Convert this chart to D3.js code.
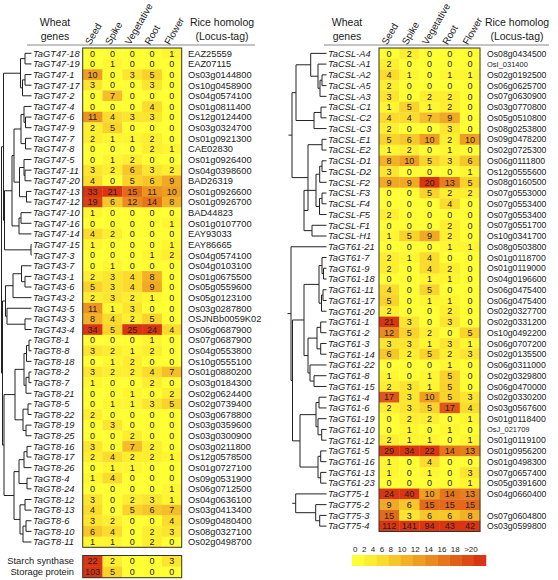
<!DOCTYPE html>
<html><head><meta charset="utf-8">
<script src="https://d3js.org/d3.v7.min.js"></script>
<style>body{margin:0;background:#fff}svg{display:block;font-family:"Liberation Sans",Arial,sans-serif}</style>
</head><body><svg id="c" width="558" height="580"></svg>
<script>
const tissues = ["Seed","Spike","Vegetative","Root","Flower"];

const leftGenes = ["TaGT47-18","TaGT47-19","TaGT47-1","TaGT47-17","TaGT47-2","TaGT47-4","TaGT47-6","TaGT47-9","TaGT47-7","TaGT47-8",
"TaGT47-5","TaGT47-11","TaGT47-20","TaGT47-13","TaGT47-12","TaGT47-10","TaGT47-16","TaGT47-14","TaGT47-15","TaGT47-3",
"TaGT43-7","TaGT43-1","TaGT43-6","TaGT43-2","TaGT43-5","TaGT43-3","TaGT43-4",
"TaGT8-1","TaGT8-8","TaGT8-18","TaGT8-2","TaGT8-7","TaGT8-21","TaGT8-5","TaGT8-22","TaGT8-19","TaGT8-25","TaGT8-16","TaGT8-17",
"TaGT8-26","TaGT8-4","TaGT8-24","TaGT8-12","TaGT8-13","TaGT8-6","TaGT8-10","TaGT8-11"];
const leftValues = [[0,0,0,0,1],[0,1,0,0,0],[10,0,3,5,0],[3,0,0,3,0],[0,7,0,0,0],[0,0,0,4,0],[11,4,3,3,0],[2,5,0,0,0],[2,1,1,2,0],[0,0,0,2,1],
[0,1,2,0,0],[3,2,6,3,2],[4,0,5,6,9],[33,21,15,11,10],[19,6,12,14,8],[1,0,0,0,0],[0,0,0,0,1],[4,2,0,0,0],[1,0,0,0,1],[0,0,0,1,2],
[0,1,0,0,0],[2,3,4,8,0],[5,3,4,9,0],[2,3,2,1,0],[11,1,3,0,0],[8,4,2,5,0],[34,5,25,24,4],
[0,0,0,1,0],[3,2,1,2,0],[0,1,2,0,0],[3,2,2,4,7],[1,0,0,2,0],[0,0,1,0,2],[0,1,1,3,5],[2,0,0,0,0],[0,3,0,0,0],[0,0,2,0,0],[3,0,7,2,0],[2,4,2,2,1],
[0,1,1,0,0],[1,4,0,0,0],[0,0,0,0,1],[3,0,2,3,1],[4,0,5,6,7],[3,2,0,0,4],[6,4,0,2,3],[1,1,0,2,0]];
const leftRice = ["EAZ25559","EAZ07115","Os03g0144800","Os10g0458900","Os04g0574100","Os01g0811400","Os12g0124400","Os03g0324700","Os01g0921300","CAE02830",
"Os01g0926400","Os04g0398600","BAD26319","Os01g0926600","Os01g0926700","BAD44823","Os01g0107700","EAY93033","EAY86665","Os04g0574100",
"Os04g0103100","Os01g0675500","Os05g0559600","Os05g0123100","Os03g0287800","OSJNBb0059K02","Os06g0687900",
"Os07g0687900","Os04g0553800","Os10g0555100","Os01g0880200","Os03g0184300","Os02g0624400","Os02g0739400","Os03g0678800","Os03g0359600","Os03g0300900","Os03g0211800","Os12g0578500",
"Os01g0727100","Os09g0531900","Os06g0712500","Os04g0636100","Os03g0413400","Os09g0480400","Os08g0327100","Os02g0498700"];

const extraLabels = ["Starch synthase","Storage protein"];
const extraValues = [[22,2,0,0,3],[103,5,0,0,0]];

const rightGenes = ["TaCSL-A4","TaCSL-A1","TaCSL-A2","TaCSL-A5","TaCSL-A3","TaCSL-C1","TaCSL-C2","TaCSL-C3","TaCSL-E1","TaCSL-E2",
"TaCSL-D1","TaCSL-D2","TaCSL-F2","TaCSL-F3","TaCSL-F4","TaCSL-F5","TaCSL-F1","TaCSL-H1",
"TaGT61-21","TaGT61-7","TaGT61-9","TaGT61-18","TaGT61-11","TaGT61-17","TaGT61-20","TaGT61-1","TaGT61-2","TaGT61-3","TaGT61-14","TaGT61-22",
"TaGT61-8","TaGT61-15","TaGT61-4","TaGT61-6","TaGT61-19","TaGT61-10","TaGT61-12","TaGT61-5","TaGT61-16","TaGT61-13","TaGT61-23",
"TaGT75-1","TaGT75-2","TaGT75-3","TaGT75-4"];
const rightValues = [[0,2,0,0,0],[2,0,0,0,0],[4,1,0,1,1],[2,0,0,0,0],[3,0,2,2,0],[1,5,1,2,0],[4,4,7,9,0],[2,0,0,3,0],[5,6,10,2,10],[1,2,0,1,0],
[8,10,5,3,6],[3,0,0,0,1],[9,9,20,13,5],[0,0,5,2,2],[0,0,0,4,0],[2,0,0,0,0],[0,0,0,2,0],[1,5,9,2,0],
[0,0,0,1,1],[2,1,4,0,0],[2,0,4,2,0],[0,0,1,1,0],[4,0,5,0,0],[5,0,1,1,0],[2,0,0,2,0],[21,3,0,3,0],[12,5,2,0,5],[3,3,1,3,1],[6,2,5,2,3],[0,0,0,1,0],
[1,0,1,5,0],[2,3,1,5,0],[17,3,10,5,3],[2,3,5,17,4],[0,2,2,0,1],[0,1,0,1,0],[2,1,1,0,1],[29,34,22,14,13],[1,0,4,0,0],[1,0,1,0,3],[0,0,0,0,1],
[24,40,10,14,13],[9,6,15,15,15],[15,3,6,6,8],[112,141,94,43,42]];
const rightRice = ["Os08g0434500","OsI_031400","Os02g0192500","Os06g0625700","Os07g0630900","Os03g0770800","Os05g0510800","Os08g0253800","Os09g0478200","Os02g0725300",
"Os06g0111800","Os12g0555600","Os08g0160500","Os07g0553000","Os07g0553400","Os07g0553400","Os07g0551700","Os10g0341700",
"Os08g0503800","Os01g0118700","Os01g0119000","Os04g0196600","Os06g0475400","Os06g0475400","Os02g0327700","Os02g0331200","Os10g0492200","Os06g0707200","Os02g0135500","Os06g0311000",
"Os02g0329800","Os06g0470000","Os02g0330200","Os03g0567600","Os01g0118400","OsJ_021709","Os01g0119100","Os01g0956200","Os01g0498300","Os07g0657400","Os05g0391600",
"Os04g0660400","","Os07g0604800","Os03g0599800"];

const legendTicks = ["0","2","4","6","8","10","12","14","16","18",">20"];
const legendValues = [0,2,4,6,8,10,12,14,16,18,20];

// dendrograms: N(depth, ...children); leaves are gene names
const N = (d, ...c) => ({d, c});
const leftTree = N(1.5,
  N(3.5,
    N(20.5, N(25,"TaGT47-18","TaGT47-19"), N(22.5, N(25,"TaGT47-1","TaGT47-17"), "TaGT47-2")),
    N(4.5,
      N(12,
        N(14,
          N(21, N(24,"TaGT47-4",N(25.5,"TaGT47-6","TaGT47-9")), N(25.5,"TaGT47-7","TaGT47-8")),
          N(19.5, N(24,"TaGT47-5",N(25,"TaGT47-11","TaGT47-20")), N(26.5,"TaGT47-13","TaGT47-12"))),
        N(19, N(21,"TaGT47-10","TaGT47-16"), "TaGT47-14")),
      N(31,"TaGT47-15","TaGT47-3"))),
  N(2.5,
    N(5.5, N(13, N(21.5,"TaGT43-7",N(25,"TaGT43-1","TaGT43-6")),"TaGT43-2"), N(7,"TaGT43-5",N(25,"TaGT43-3","TaGT43-4"))),
    N(4,
      N(15,
        N(24, N(26.5, N(29,"TaGT8-1","TaGT8-8"),"TaGT8-18"), N(26, N(29,"TaGT8-2","TaGT8-7"),"TaGT8-21")),
        N(23, N(28,"TaGT8-5","TaGT8-22"), N(26,"TaGT8-19","TaGT8-25"))),
      N(14,
        N(19, N(24, N(27,"TaGT8-16","TaGT8-17"),"TaGT8-26"), N(27,"TaGT8-4","TaGT8-24")),
        N(20, N(25,"TaGT8-12","TaGT8-13"), N(23, N(26,"TaGT8-6","TaGT8-10"),"TaGT8-11"))))));

const rightTrees = [
  N(13,
    N(17, N(31.7,"TaCSL-A4",N(39,"TaCSL-A1",N(41,N(43,"TaCSL-A2","TaCSL-A5"),"TaCSL-A3"))),
          N(35, N(42,"TaCSL-C1","TaCSL-C2"),"TaCSL-C3")),
    N(29, N(43,"TaCSL-E1","TaCSL-E2"),
          N(25, N(37, N(40.7, N(43,"TaCSL-D1","TaCSL-D2"),"TaCSL-F2"), N(40.5, N(43,"TaCSL-F3","TaCSL-F4"),"TaCSL-F5")),
                N(33,"TaCSL-F1","TaCSL-H1")))),
  N(12, "TaGT61-21",
    N(13.5,
      N(25, N(40, N(43,"TaGT61-7",N(44.5,"TaGT61-9","TaGT61-18")), N(42.5, N(44,"TaGT61-11","TaGT61-17"),"TaGT61-20")),
            N(29, N(38, N(41.7,"TaGT61-1","TaGT61-2"), N(41.7,"TaGT61-3","TaGT61-14")),
                  N(31,"TaGT61-22",N(35,"TaGT61-8","TaGT61-15")))),
      N(21, N(37, N(40,"TaGT61-4","TaGT61-6"), N(39,"TaGT61-19",N(42.7,"TaGT61-10","TaGT61-12"))),
            N(39, N(41.7,"TaGT61-5","TaGT61-16"), N(41.7,"TaGT61-13","TaGT61-23"))))),
  N(16.7, "TaGT75-1", N(36.7, "TaGT75-2", N(40.7,"TaGT75-3","TaGT75-4")))
];

const svg = d3.select("#c");
const ink = "#1a1a1a";
const color = d3.scaleLinear().domain([0,4,8,12,16,20])
  .range(["#ffff33","#fbdc2c","#f3b225","#ea8a1f","#e25f19","#da3513"]).clamp(true);

function drawPanel(o) {
  const g = svg.append("g");
  const x = d3.scaleBand().domain(tissues).range([o.x0, o.x1]);
  const y = d3.scaleBand().domain(o.genes).range([o.y0, o.y1]);
  // header
  g.append("line").attr("x1", o.lineX0).attr("x2", o.lineX1).attr("y1", 45).attr("y2", 45)
    .attr("stroke", "#888").attr("stroke-width", 1);
  [["Wheat",26],["genes",40]].forEach(([t,yy]) => g.append("text").attr("x", o.wheatX).attr("y", yy)
    .attr("text-anchor","middle").attr("font-size",10.5).attr("fill",ink).text(t));
  [["Rice homolog",26],["(Locus-tag)",40]].forEach(([t,yy]) => g.append("text").attr("x", o.riceHX).attr("y", yy)
    .attr("text-anchor","middle").attr("font-size",10.5).attr("fill",ink).text(t));
  tissues.forEach(t => g.append("text")
    .attr("transform", `translate(${x(t) + x.bandwidth()/2 - 2},${45.5}) rotate(-60)`)
    .attr("font-size", 9.8).attr("fill", ink).text(t));
  // cells
  o.genes.forEach((gn, i) => {
    tissues.forEach((t, j) => {
      const v = o.values[i][j];
      g.append("rect").attr("x", x(t)).attr("y", y(gn)).attr("width", x.bandwidth() + 0.3)
        .attr("height", y.bandwidth() + 0.3).attr("fill", color(v));
      g.append("text").attr("x", x(t) + x.bandwidth()/2).attr("y", y(gn) + y.bandwidth()/2)
        .attr("dy", "0.36em").attr("text-anchor", "middle").attr("font-size", 9).attr("fill", "#222").text(v);
    });
    g.append("text").attr("x", o.labelX).attr("y", y(gn) + y.bandwidth()/2).attr("dy","0.36em")
      .attr("font-size", 9.3).attr("font-style","italic").attr("fill", ink).text(gn);
    const r = o.rice[i];
    const small = r.indexOf("_") >= 0;
    g.append("text").attr("x", o.riceX).attr("y", y(gn) + y.bandwidth()/2).attr("dy","0.36em")
      .attr("font-size", small ? 7.5 : o.riceFont).attr("fill", ink).text(r);
  });
  g.append("rect").attr("x", o.x0).attr("y", o.y0).attr("width", o.x1 - o.x0).attr("height", o.y1 - o.y0)
    .attr("fill","none").attr("stroke","#333").attr("stroke-width",1);
  // trees
  const xs = d3.scaleLinear().domain([0, 1]).range([o.treeX0, o.treeX0 + 1]);
  const leafEnd = o.labelX - 1.5;
  const tg = g.append("g").attr("stroke", "#222").attr("stroke-width", 1).attr("fill","none");
  function layout(n) {
    if (typeof n === "string") return {y: y(n) + y.bandwidth()/2, x: leafEnd};
    const ch = n.c.map(layout);
    const ys = ch.map(c => c.y);
    const nx = xs(n.d);
    const ymin = d3.min(ys), ymax = d3.max(ys);
    tg.append("line").attr("x1", nx).attr("x2", nx).attr("y1", ymin).attr("y2", ymax);
    ch.forEach(c => tg.append("line").attr("x1", nx).attr("x2", c.x).attr("y1", c.y).attr("y2", c.y));
    return {y: (ymin + ymax)/2, x: nx};
  }
  o.trees.forEach(t => {
    const r = layout(t);
    if (o.stub) tg.append("line").attr("x1", r.x - o.stub).attr("x2", r.x).attr("y1", r.y).attr("y2", r.y);
  });
  return {g, x};
}

const L = drawPanel({genes: leftGenes, values: leftValues, rice: leftRice, x0: 82.7, x1: 181.7, y0: 48, y1: 547.3,
  labelX: 33, riceX: 188, riceFont: 9.3, wheatX: 55, riceHX: 222, lineX0: 27, lineX1: 255,
  trees: [leftTree], treeX0: 0, stub: 0});
drawPanel({genes: rightGenes, values: rightValues, rice: rightRice, x0: 379, x1: 480, y0: 48, y1: 531.5,
  labelX: 328, riceX: 487, riceFont: 8.7, wheatX: 347, riceHX: 517, lineX0: 324, lineX1: 549,
  trees: rightTrees, treeX0: 279, stub: 3.5});

// extra rows
const ey = d3.scaleBand().domain(extraLabels).range([555.5, 577.7]);
extraLabels.forEach((lab, i) => {
  tissues.forEach((t, j) => {
    const v = extraValues[i][j];
    svg.append("rect").attr("x", L.x(t)).attr("y", ey(lab)).attr("width", L.x.bandwidth() + 0.3)
      .attr("height", ey.bandwidth() + 0.3).attr("fill", color(v));
    svg.append("text").attr("x", L.x(t) + L.x.bandwidth()/2).attr("y", ey(lab) + ey.bandwidth()/2)
      .attr("dy","0.36em").attr("text-anchor","middle").attr("font-size",9).attr("fill","#222").text(v);
  });
  svg.append("text").attr("x", 74).attr("y", ey(lab) + ey.bandwidth()/2).attr("dy","0.36em")
    .attr("text-anchor","end").attr("font-size",9.3).attr("fill",ink).text(lab);
});
svg.append("rect").attr("x", 82.7).attr("y", 555.5).attr("width", 99).attr("height", 22.2)
  .attr("fill","none").attr("stroke","#333").attr("stroke-width",1);

// legend
const lx = d3.scaleBand().domain(legendValues).range([352, 486]);
legendValues.forEach(v => svg.append("rect").attr("x", lx(v)).attr("y", 555).attr("width", lx.bandwidth() + 0.3)
  .attr("height", 11).attr("fill", color(v)));
svg.append("text").attr("x", 353).attr("y", 552).attr("font-size", 8).attr("fill", ink)
  .style("white-space","pre").text(legendTicks.join("  "));
</script></body></html>
